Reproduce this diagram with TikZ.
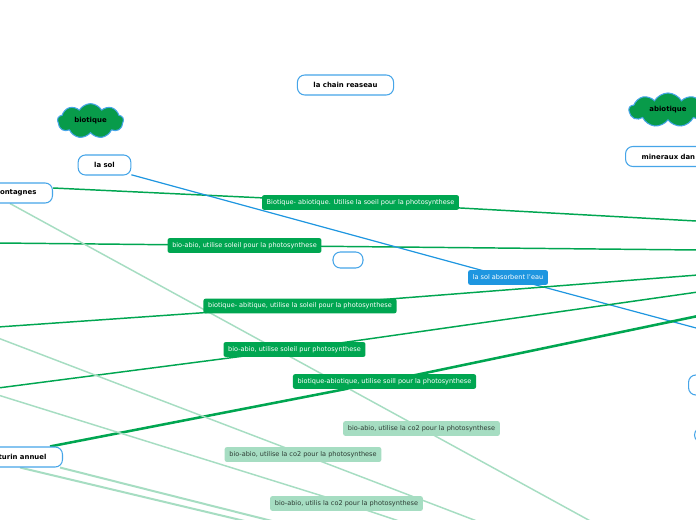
\documentclass[tikz,border=0pt]{standalone}
\usepackage{fontspec}
\setmainfont{DejaVu Sans}
\usetikzlibrary{shapes.symbols,calc,backgrounds}
\definecolor{dgreen}{RGB}{0,166,81}
\definecolor{lgreen}{RGB}{166,221,194}
\definecolor{lblue}{RGB}{30,150,224}
\definecolor{pillblue}{RGB}{70,165,232}
\definecolor{cgreen}{RGB}{8,155,74}
\definecolor{ltext}{RGB}{45,60,52}
\begin{document}
\begin{tikzpicture}[x=0.75pt,y=-0.75pt,
  pill/.style={draw=pillblue, line width=0.8pt, fill=white, rounded corners=5.5pt,
    minimum height=15pt, inner xsep=12pt, inner ysep=0pt,
    font=\fontsize{5.2}{6}\selectfont\bfseries},
  lab/.style={fill=dgreen, text=white, rounded corners=1.5pt, minimum height=11pt,
    inner xsep=3.5pt, inner ysep=0pt, font=\fontsize{4.9}{6}\selectfont},
  lablight/.style={lab, fill=lgreen, text=ltext},
  labblue/.style={lab, fill=lblue},
  cl/.style={cloud, cloud puffs=9, cloud puff arc=120, cloud ignores aspect,
    draw=pillblue, fill=cgreen,
    line width=0.8pt, inner sep=0pt, font=\fontsize{5.2}{6}\selectfont\bfseries},
  gline/.style={draw=dgreen, line width=1.1pt},
  gthick/.style={draw=dgreen, line width=1.9pt},
  bline/.style={draw=lblue, line width=0.9pt},
  lline/.style={draw=lgreen, line width=1.1pt},
  lline2/.style={draw=lgreen, line width=1.5pt}]
\useasboundingbox (0,0) rectangle (696,520);
\clip (0,0) rectangle (696,520);

% nodes
\node[pill] (chain) at (345.5,85) {la chain reaseau};
\node[cl, minimum width=49.5pt, minimum height=26pt] (bio) at (90.5,121) {biotique};
\node[pill] (sol) at (104.5,165) {la sol};
\node[pill, anchor=east, text width=60pt, align=right] (mont) at (53,193) {montagnes};
\node[cl, minimum width=58.5pt, minimum height=25.5pt] (abio) at (668,110) {abiotique};
\node[pill, anchor=west, text width=60pt, align=left] (mine) at (625,156.5) {mineraux dan};
\node[pill, minimum width=22.5pt, minimum height=12pt, inner xsep=0pt] (empty) at (348,260) {};
\node[pill, anchor=east, text width=60pt, align=right] (turin) at (63,457) {turin annuel};
\node[pill, anchor=west, minimum width=40pt] (r1) at (688,385) {};
\node[pill, anchor=west, minimum width=40pt, minimum height=11pt] (r2) at (694,435) {};

% labels
\node[lab] (l1) at (360.5,202.5) {Biotique- abiotique. Utilise la soeil pour la photosynthese};
\node[lab] (l2) at (244.5,245.5) {bio-abio, utilise soleil pour la photosynthese};
\node[labblue] (l3) at (508,277.5) {la sol absorbent l'eau};
\node[lab] (l4) at (300,306) {biotique- abitique, utilise la soleil pour la photosynthese};
\node[lab] (l5) at (294.5,349.5) {bio-abio, utilise soleil pur photosynthese};
\node[lab] (l6) at (384.5,381.5) {biotique-abiotique, utilise soill pour la photosynthese};
\node[lablight] (l7) at (421.5,428.5) {bio-abio, utilise la co2 pour la photosynthese};
\node[lablight] (l8) at (303,454.5) {bio-abio, utilise la co2 pour la photosynthese};
\node[lablight] (l9) at (346.5,503.5) {bio-abio, utilis la co2 pour la photosynthese};

% free ends
\coordinate (e1) at (696,221);
\coordinate (s2) at (-2,243);
\coordinate (e2) at (698,250);
\coordinate (e3) at (698,328.5);
\coordinate (s4) at (-2,327);
\coordinate (e4) at (698,275);
\coordinate (s5) at (-2,388);
\coordinate (e5) at (698,292);
\coordinate (e6) at (698,316);
\coordinate (e7) at (594,523);
\coordinate (s8) at (-2,338);
\coordinate (e8) at (482,523);
\coordinate (s9) at (-2,395);
\coordinate (e9) at (405,523);
\coordinate (t1) at (253,523);
\coordinate (t2) at (280,523);

\begin{pgfonlayer}{background}
\clip (0,0) rectangle (696,520);
\fill[white] (0,0) rectangle (696,520);
\draw[gline] ($(mont.east)+(0,-5)$) -- (l1.center) -- (e1);
\draw[gline] (s2) -- (l2.center) -- (e2);
\draw[bline] (sol.-20) -- (l3.center) -- (e3);
\draw[gline] (s4) -- (l4.center) -- (e4);
\draw[gline] (s5) -- (l5.center) -- (e5);
\draw[gthick] ($(turin.north east)+(-13,0)$) -- (l6.center) -- (e6);
\draw[lline] ($(mont.south east)+(-43,0)$) -- (l7.center) -- (e7);
\draw[lline] (s8) -- (l8.center) -- (e8);
\draw[lline] (s9) -- (l9.center) -- (e9);
\draw[lline2] ($(turin.south east)+(-43,0)$) -- (t1);
\draw[lline2] ($(turin.south east)+(-3,0)$) -- (t2);
\end{pgfonlayer}
\end{tikzpicture}
\end{document}
